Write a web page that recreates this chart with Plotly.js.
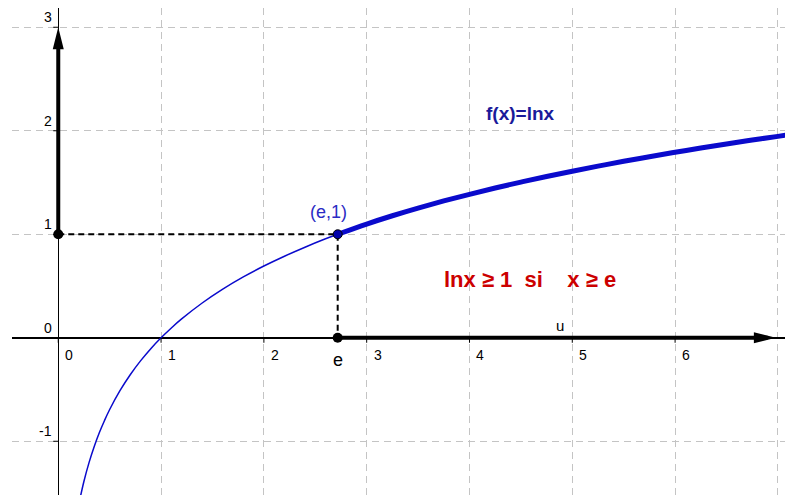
<!DOCTYPE html>
<html>
<head>
<meta charset="utf-8">
<script src="https://cdn.plot.ly/plotly-3.0.1.min.js"></script>
<style>
  body { margin: 0; background: #fff; }
  #grafico { width: 785px; height: 495px; }
</style>
</head>
<body>
<div id="grafico"></div>
<script>
// valores
const E = 2.718;
const curvaX1 = [0.21, 0.25, 0.3, 0.35, 0.4, 0.45, 0.5, 0.6, 0.7, 0.8, 0.9, 1, 1.1, 1.2, 1.4, 1.6, 1.8, 2, 2.2, 2.4, 2.6, E];
const curvaY1 = [-1.561, -1.386, -1.204, -1.050, -0.916, -0.799, -0.693, -0.511, -0.357, -0.223, -0.105, 0, 0.095, 0.182, 0.336, 0.470, 0.588, 0.693, 0.788, 0.875, 0.956, 1];
const curvaX2 = [E, 3, 3.25, 3.5, 3.75, 4, 4.25, 4.5, 4.75, 5, 5.25, 5.5, 5.75, 6, 6.25, 6.5, 6.75, 7, 7.1];
const curvaY2 = [1, 1.099, 1.179, 1.253, 1.322, 1.386, 1.447, 1.504, 1.558, 1.609, 1.658, 1.705, 1.749, 1.792, 1.833, 1.872, 1.910, 1.946, 1.960];
const ticksX = [0, 1, 2, 3, 4, 5, 6];
const ticksY = [-1, 0, 1, 2, 3];
const pontosX = [0, E, E];
const pontosY = [1, 1, 0];
const tracejX = [0, E, E];
const tracejY = [1, 1, 0];
const vetorU = [E, 6.9];       // eixo x grosso ate a seta
const vetorV = [1, 2.85];      // eixo y grosso ate a seta
const setaX = 6.98, setaY = 3;

const fonte = 'Liberation Sans, Arial, sans-serif';
const azul = '#0a0acc';

var data = [
    { x: curvaX1, y: curvaY1, mode: 'lines', line: { color: azul, width: 1.5, shape: 'spline' }, hoverinfo: 'skip' },
    { x: curvaX2, y: curvaY2, mode: 'lines', line: { color: azul, width: 5, shape: 'spline' }, hoverinfo: 'skip' },
    { x: tracejX, y: tracejY, mode: 'lines', line: { color: '#000', width: 2, dash: '6px,4px' }, hoverinfo: 'skip' },
    { x: vetorU, y: [0, 0], mode: 'lines', line: { color: '#000', width: 4 }, hoverinfo: 'skip' },
    { x: [0, 0], y: vetorV, mode: 'lines', line: { color: '#000', width: 4 }, hoverinfo: 'skip' },
    { x: [pontosX[0], pontosX[2]], y: [pontosY[0], pontosY[2]], mode: 'markers',
      marker: { color: '#000', size: 10 }, hoverinfo: 'skip' },
    { x: [pontosX[1]], y: [pontosY[1]], mode: 'markers',
      marker: { color: '#0000aa', size: 9, line: { color: '#000', width: 1 } }, hoverinfo: 'skip' }
];

var shapes = [];
// pequenas marcas nos eixos
ticksX.forEach(function (t) {
    shapes.push({ type: 'line', xref: 'x', yref: 'y', x0: t, x1: t, ysizemode: 'pixel', yanchor: 0, y0: 0, y1: -5,
        line: { color: '#000', width: 1 } });
});
ticksY.forEach(function (t) {
    shapes.push({ type: 'line', xref: 'x', yref: 'y', y0: t, y1: t, xsizemode: 'pixel', xanchor: 0, x0: -5, x1: 0,
        line: { color: '#000', width: 1 } });
});
// pontas das setas
shapes.push({ type: 'path', xref: 'x', yref: 'y', xsizemode: 'pixel', ysizemode: 'pixel', xanchor: setaX, yanchor: 0,
    path: 'M0,0 L-22,5.5 L-22,-5.5 Z', fillcolor: '#000', line: { width: 0 } });
shapes.push({ type: 'path', xref: 'x', yref: 'y', xsizemode: 'pixel', ysizemode: 'pixel', xanchor: 0, yanchor: setaY,
    path: 'M0,0 L-5.5,-22 L5.5,-22 Z', fillcolor: '#000', line: { width: 0 } });

var anotacoes = [];
ticksX.forEach(function (t) {
    anotacoes.push({ x: t, y: 0, text: String(t), showarrow: false, xanchor: 'left', yanchor: 'top',
        xshift: 5, yshift: -7, font: { family: fonte, size: 14, color: '#000' } });
});
ticksY.forEach(function (t) {
    anotacoes.push({ x: 0, y: t, text: String(t), showarrow: false, xanchor: 'right', yanchor: 'bottom',
        xshift: -4, yshift: 0, font: { family: fonte, size: 14, color: '#000' } });
});
anotacoes.push({ x: E, y: 0, text: 'e', showarrow: false, yshift: -22, font: { family: fonte, size: 18, color: '#000' } });
anotacoes.push({ x: E, y: 1, text: '(e,1)', showarrow: false, xshift: -9, yshift: 22, font: { family: fonte, size: 18, color: '#2b2bc4' } });
anotacoes.push({ x: 4.88, y: 0, text: 'u', showarrow: false, yshift: 12, font: { family: fonte, size: 15, color: '#000' } });
anotacoes.push({ x: 4.5, y: 2.17, text: '<b>f(x)=lnx</b>', showarrow: false, font: { family: fonte, size: 19, color: '#1a1a9a' } });
anotacoes.push({ x: 4.59, y: 0.56, text: '<b>lnx \u2265 1 \u00a0si \u00a0\u00a0\u00a0x \u2265 e</b>', showarrow: false,
    font: { family: fonte, size: 22, color: '#cc0000' } });

var layout = {
    width: 785, height: 495,
    margin: { l: 12, r: 0, t: 8, b: 0, pad: 0 },
    paper_bgcolor: '#fff', plot_bgcolor: '#fff',
    showlegend: false,
    xaxis: { range: [-0.45, 7.069], dtick: 1, tick0: 0, showticklabels: false, ticks: '',
        showgrid: true, gridcolor: '#c4c4c4', gridwidth: 1, griddash: '7px,5px',
        zeroline: true, zerolinecolor: '#000', zerolinewidth: 1.5, showline: false },
    yaxis: { range: [-1.519, 3.186], dtick: 1, tick0: 0, showticklabels: false, ticks: '',
        showgrid: true, gridcolor: '#c4c4c4', gridwidth: 1, griddash: '7px,5px',
        zeroline: true, zerolinecolor: '#000', zerolinewidth: 1.5, showline: false },
    shapes: shapes,
    annotations: anotacoes
};

Plotly.newPlot('grafico', data, layout, { staticPlot: true });
</script>
</body>
</html>
